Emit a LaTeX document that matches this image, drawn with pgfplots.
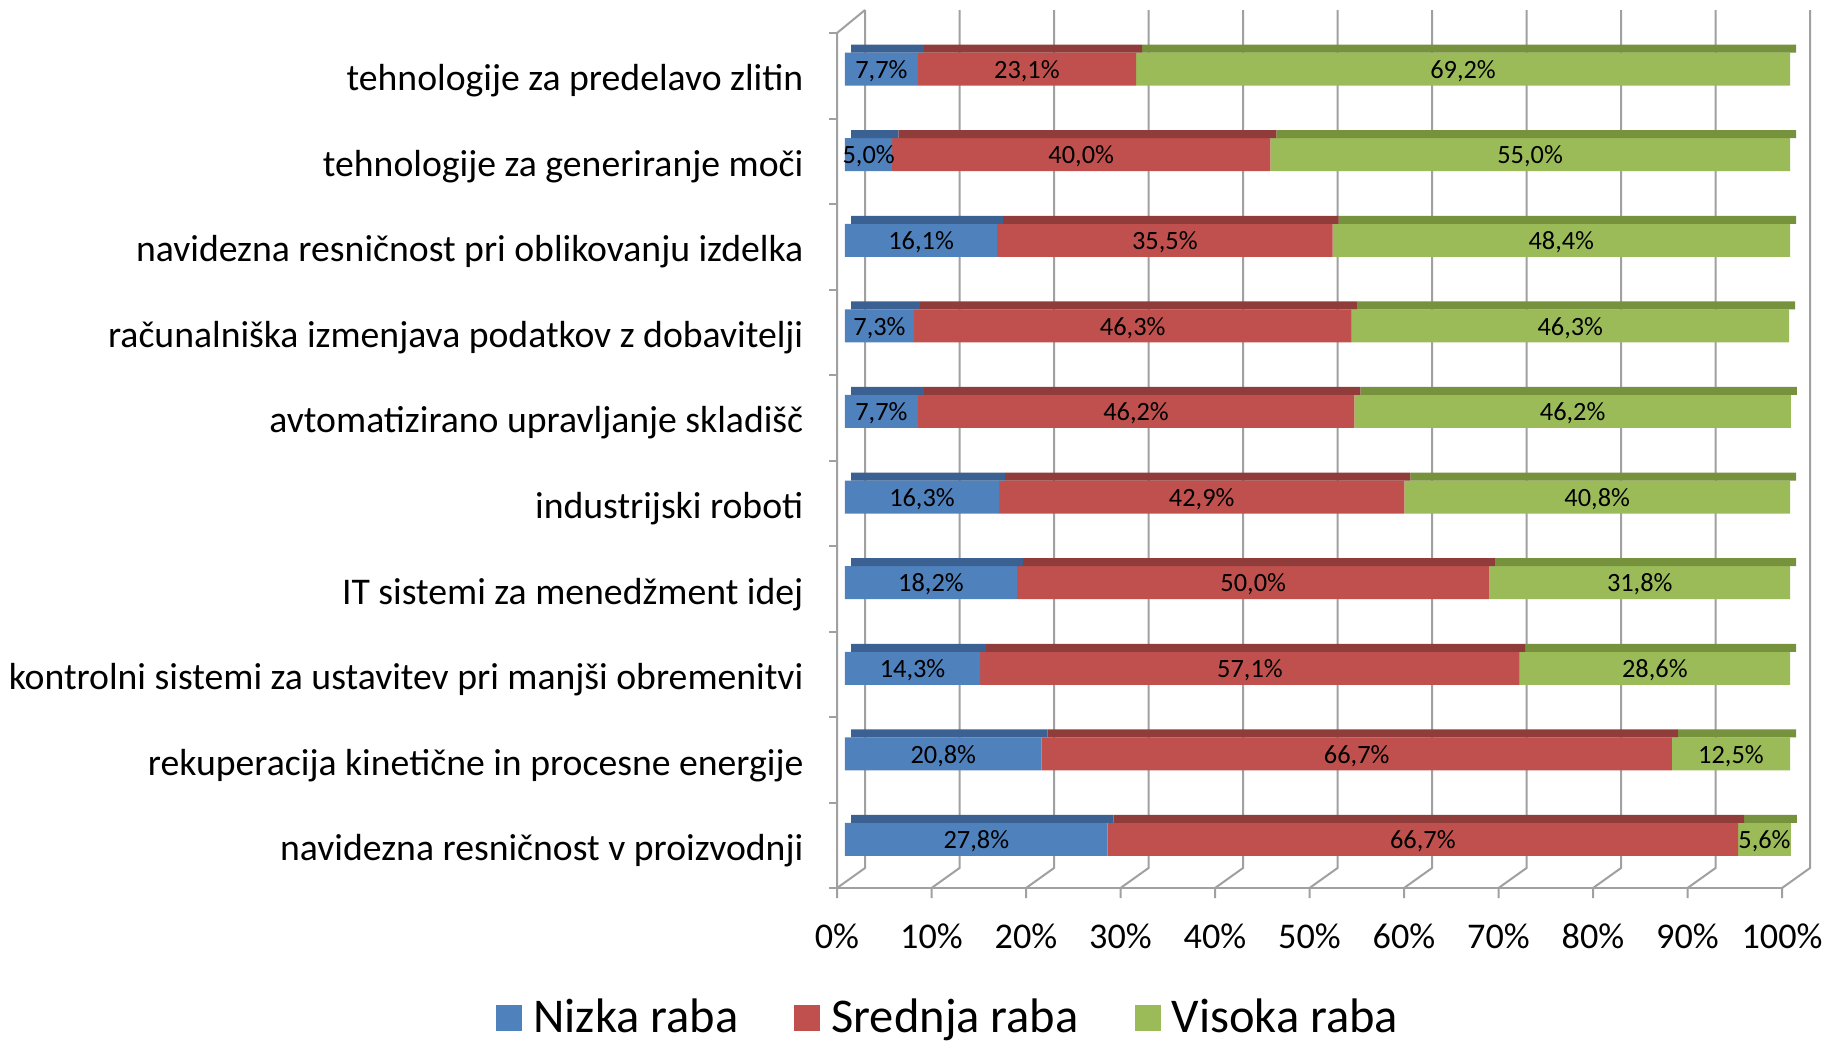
\documentclass[border=0pt]{standalone}
\usepackage{pgfplots}
\pgfplotsset{compat=1.18}
\usepackage{pgfplotstable}
\usepackage{fontspec}
\setmainfont{Carlito}
\definecolor{cblue}{HTML}{4F81BD}
\definecolor{cred}{HTML}{C0504D}
\definecolor{cgreen}{HTML}{9BBB59}
\definecolor{tblue}{HTML}{3B6193}
\definecolor{tred}{HTML}{903C3A}
\definecolor{tgreen}{HTML}{76923C}
\definecolor{gridc}{HTML}{A0A0A0}

\pgfplotstableread{
y n s v
0 27.8 66.7 5.6
1 20.8 66.7 12.5
2 14.3 57.1 28.6
3 18.2 50.0 31.8
4 16.3 42.9 40.8
5 7.7 46.2 46.2
6 7.3 46.3 46.3
7 16.1 35.5 48.4
8 5.0 40.0 55.0
9 7.7 23.1 69.2
}\data

\pgfplotsset{base/.style={
  width=9.45cm, height=8.74cm, scale only axis,
  at={(0,0)}, anchor=south west,
  xmin=0, xmax=100, ymin=-0.567, ymax=9.643,
  axis line style={draw=none}, clip=false,
}}
\begin{document}
\begin{tikzpicture}
% walls, floor and gridlines (decoration)
\foreach \i in {0,...,10}{
  \draw[gridc, line width=0.02cm] (\i*0.945+0.2,8.78) -- (\i*0.945+0.2,0.2) -- (\i*0.945-0.08,0) -- (\i*0.945-0.08,-0.1);
}
\draw[gridc, line width=0.02cm] (-0.08,0) -- (-0.08,8.55) -- (0.2,8.78);
\draw[gridc, line width=0.02cm] (-0.08,0) -- (9.37,0);
\foreach \k in {0,...,10}{
  \draw[gridc, line width=0.02cm] (-0.16,\k*0.855) -- (-0.08,\k*0.855);
}
\begin{axis}[base,
  xbar stacked, bar width=0.33cm,
  ytick={0,...,9},
  yticklabels={navidezna resničnost v proizvodnji,
    rekuperacija kinetične in procesne energije,
    kontrolni sistemi za ustavitev pri manjši obremenitvi,
    IT sistemi za menedžment idej,
    industrijski roboti,
    avtomatizirano upravljanje skladišč,
    računalniška izmenjava podatkov z dobavitelji,
    navidezna resničnost pri oblikovanju izdelka,
    tehnologije za generiranje moči,
    tehnologije za predelavo zlitin},
  xtick={0,10,...,100},
  xticklabel={\pgfmathprintnumber{\tick}\%},
  major tick length=0pt,
  /pgf/number format/assume math mode=true,
  xticklabel style={anchor=center, yshift=-0.48cm, xshift=-0.08cm, font=\fontsize{10.3}{12}\selectfont},
  yticklabel style={anchor=east, inner sep=0pt, xshift=-0.41cm, yshift=-0.115cm, font=\fontsize{10.73}{12}\selectfont},
  nodes near coords={\pgfmathprintnumber[fixed,fixed zerofill,precision=1,use comma]{\pgfplotspointmeta}\%},
  every node near coord/.append style={anchor=center, yshift=-0.02cm, font=\fontsize{7.5}{9}\selectfont, text=black, inner sep=0pt},
  legend columns=3,
  legend style={at={(0.112,-0.149)}, anchor=center, draw=none, fill=none,
    font=\fontsize{13.8}{16}\selectfont,
    /tikz/every even column/.append style={column sep=0.49cm}},
  legend image code/.code={\fill[#1] (0cm,-0.13cm) rectangle (0.26cm,0.13cm); \path (0.30cm,0);},
]
\addplot[fill=cblue, draw=none] table[x=n,y=y]{\data};
\addplot[fill=cred, draw=none] table[x=s,y=y]{\data};
\addplot[fill=cgreen, draw=none] table[x=v,y=y]{\data};
\legend{Nizka raba, Srednja raba, Visoka raba}
\end{axis}
\begin{axis}[base, xbar stacked, bar width=0.08cm, bar shift=0.205cm, xshift=0.06cm, ticks=none]
\addplot[fill=tblue, draw=none] table[x=n,y=y]{\data};
\addplot[fill=tred, draw=none] table[x=s,y=y]{\data};
\addplot[fill=tgreen, draw=none] table[x=v,y=y]{\data};
\end{axis}
\pgfresetboundingbox
\path (-8.45,-1.53) rectangle (9.83,8.88);
\end{tikzpicture}
\end{document}
